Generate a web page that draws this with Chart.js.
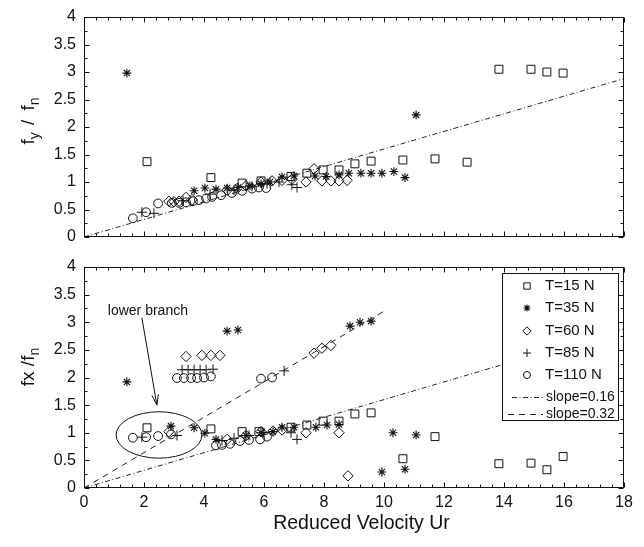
<!DOCTYPE html>
<html><head><meta charset="utf-8">
<script src="https://cdn.jsdelivr.net/npm/chart.js@4.4.0/dist/chart.umd.min.js"></script>
<style>
html,body{margin:0;padding:0;background:#fff;}
#wrap{position:relative;width:644px;height:547px;background:#fff;}
#c1{position:absolute;left:0;top:0;}
#c2{position:absolute;left:0;top:250px;}
</style></head><body>
<div id="wrap"><canvas id="c1" width="644" height="250" style="width:644px;height:250px"></canvas><canvas id="c2" width="644" height="297" style="width:644px;height:297px"></canvas></div>
<script>
// ---------- data ----------
const xTicks = [0, 2, 4, 6, 8, 10, 12, 14, 16, 18];
const yTicks = [0, 0.5, 1, 1.5, 2, 2.5, 3, 3.5, 4];
const seriesLabels = ['T=15 N', 'T=35 N', 'T=60 N', 'T=85 N', 'T=110 N'];
const lineLabels = ['slope=0.16', 'slope=0.32'];
const xTitle = 'Reduced Velocity Ur';

// top panel: fy / fn
const topT15X = [2.1, 4.23, 5.27, 5.9, 6.9, 7.43, 7.97, 8.5, 9.03, 9.57, 10.63, 11.7, 12.77, 13.83, 14.9, 15.43, 15.97];
const topT15Y = [1.37, 1.08, 0.98, 1.02, 1.1, 1.16, 1.22, 1.22, 1.33, 1.38, 1.40, 1.42, 1.36, 3.05, 3.05, 3.0, 2.98];
const topT35X = [1.43, 3.67, 4.03, 4.4, 4.77, 5.13, 5.53, 5.9, 6.2, 6.6, 7.0, 7.7, 8.07, 8.5, 8.83, 9.23, 9.57, 9.93, 10.33, 10.7, 11.07];
const topT35Y = [2.98, 0.84, 0.89, 0.87, 0.89, 0.9, 0.93, 0.97, 1.0, 1.09, 1.11, 1.11, 1.1, 1.13, 1.16, 1.16, 1.16, 1.16, 1.19, 1.08, 2.22];
const topT60X = [2.83, 3.0, 3.17, 3.4, 3.6, 4.77, 5.1, 5.4, 5.9, 6.27, 6.6, 6.93, 7.4, 7.67, 7.93, 8.23, 8.5, 8.77];
const topT60Y = [0.65, 0.64, 0.65, 0.72, 0.68, 0.85, 0.88, 0.93, 1.0, 1.02, 1.03, 1.05, 1.0, 1.24, 1.02, 1.02, 1.02, 1.03];
const topT85X = [1.93, 2.33, 3.3, 4.2, 5.0, 5.6, 6.1, 6.5, 6.93, 7.1];
const topT85Y = [0.45, 0.43, 0.66, 0.78, 0.85, 0.92, 0.97, 1.0, 0.95, 0.9];
const topT110X = [1.63, 2.07, 2.47, 2.93, 3.17, 3.4, 3.63, 3.83, 4.07, 4.27, 4.57, 4.93, 5.27, 5.6, 5.83, 6.07];
const topT110Y = [0.34, 0.45, 0.61, 0.62, 0.62, 0.63, 0.65, 0.67, 0.7, 0.73, 0.76, 0.8, 0.84, 0.88, 0.9, 0.89];

// bottom panel: fx / fn
const botT15X = [2.1, 4.23, 5.27, 5.83, 6.9, 7.43, 7.97, 8.5, 9.03, 9.57, 10.63, 11.7, 13.83, 14.9, 15.43, 15.97];
const botT15Y = [1.09, 1.07, 1.02, 1.02, 1.1, 1.14, 1.21, 1.21, 1.34, 1.36, 0.53, 0.93, 0.44, 0.45, 0.33, 0.57];
const botT35X = [1.43, 2.9, 3.67, 4.03, 4.4, 4.77, 5.13, 5.4, 5.9, 6.3, 6.6, 7.0, 7.73, 8.1, 8.5, 8.87, 9.2, 9.57, 9.93, 10.3, 10.7, 11.07];
const botT35Y = [1.92, 1.12, 1.09, 0.99, 0.88, 2.84, 2.86, 0.95, 1.0, 1.02, 1.1, 1.1, 1.1, 1.14, 1.15, 2.93, 3.0, 3.02, 0.29, 1.0, 0.34, 0.96];
const botT60X = [2.83, 3.4, 3.93, 4.23, 4.53, 4.77, 5.4, 5.9, 6.3, 6.6, 7.4, 7.67, 7.93, 8.23, 8.5, 8.8];
const botT60Y = [1.02, 2.38, 2.4, 2.4, 2.4, 0.88, 0.95, 1.02, 1.03, 1.05, 1.0, 2.44, 2.53, 2.58, 1.0, 0.22];
const botT85X = [1.93, 3.1, 3.27, 3.47, 3.67, 3.87, 4.07, 4.3, 4.6, 5.0, 5.5, 6.0, 6.67, 6.9, 7.1];
const botT85Y = [0.92, 0.95, 2.14, 2.14, 2.14, 2.14, 2.14, 2.15, 0.86, 0.9, 0.95, 1.0, 2.12, 1.0, 0.88];
const botT110X = [1.63, 2.07, 2.47, 2.9, 3.1, 3.33, 3.57, 3.77, 4.0, 4.23, 4.4, 4.6, 4.87, 5.2, 5.5, 5.87, 5.9, 6.1, 6.27];
const botT110Y = [0.91, 0.92, 0.94, 0.97, 1.99, 1.99, 1.99, 1.99, 2.0, 2.02, 0.77, 0.78, 0.8, 0.85, 0.87, 0.88, 1.98, 0.93, 2.0];

// reference lines
const slope016X = [0, 18];
const slope016Y = [0, 2.88];
const slope032X = [0, 10];
const slope032Y = [0, 3.2];

// ---------- styling ----------
const FONT = '"Liberation Sans", Arial, Helvetica, sans-serif';
const INK = '#111';
const markerStyles = [
  {pointStyle: 'rect', radius: 5.6, bw: 1},
  {pointStyle: 'star', radius: 4.4, bw: 1.1},
  {pointStyle: 'rectRot', radius: 5.2, bw: 1},
  {pointStyle: 'cross', radius: 5, bw: 1},
  {pointStyle: 'circle', radius: 4.4, bw: 1}
];
const lineStyles = [[5, 2.5, 1, 2.5], [6, 5]];

function pts(xs, ys) { return xs.map((x, i) => ({x: x, y: ys[i]})); }
function markerDs(i, xs, ys) {
  const s = markerStyles[i];
  return {label: seriesLabels[i], data: pts(xs, ys), showLine: false,
    pointStyle: s.pointStyle, pointRadius: s.radius, pointBorderWidth: s.bw,
    pointBorderColor: INK, pointBackgroundColor: 'rgba(0,0,0,0)', borderColor: INK};
}
function lineDs(i, xs, ys) {
  return {label: lineLabels[i], data: pts(xs, ys), showLine: true, pointRadius: 0,
    borderColor: '#222', borderWidth: 1, borderDash: lineStyles[i], fill: false};
}

// ticks inward + frame + axis titles
function framePlugin(titleParts, titleCenterY, showXTitle) {
  return {
    id: 'frame',
    afterDatasetsDraw(chart) {
      const ctx = chart.ctx, a = chart.chartArea, xs = chart.scales.x, ys = chart.scales.y;
      ctx.save();
      ctx.strokeStyle = INK; ctx.lineWidth = 1;
      const L = Math.round(a.left) + 0.5, R = Math.round(a.right) - 0.5, T = Math.round(a.top) + 0.5, B = Math.round(a.bottom) - 0.5;
      ctx.beginPath();
      for (let k = 0; k <= 45; k++) {
        const v = k * 0.4, px = Math.round(xs.getPixelForValue(v)) + 0.5;
        const len = (k % 5 === 0) ? 5 : 3;
        ctx.moveTo(px, B); ctx.lineTo(px, B - len);
        ctx.moveTo(px, T); ctx.lineTo(px, T + len);
      }
      for (let k = 0; k <= 16; k++) {
        const v = k * 0.25, py = Math.round(ys.getPixelForValue(v)) + 0.5;
        const len = (k % 2 === 0) ? 5 : 3;
        ctx.moveTo(L, py); ctx.lineTo(L + len, py);
        ctx.moveTo(R, py); ctx.lineTo(R - len, py);
      }
      ctx.stroke();
      ctx.strokeRect(L, T, R - L, B - T);
      ctx.fillStyle = INK;
      if (showXTitle) {
        ctx.font = '19.5px ' + FONT; ctx.textAlign = 'center'; ctx.textBaseline = 'middle';
        ctx.fillText(xTitle, xs.getPixelForValue(9.25), 274);
      }
      // y title (rotated, with subscripts)
      ctx.textAlign = 'left';
      ctx.translate(28, titleCenterY);
      ctx.rotate(-Math.PI / 2);
      ctx.textBaseline = 'alphabetic';
      let total = 0;
      titleParts.forEach(p => { ctx.font = p.size + 'px ' + FONT; p.w = ctx.measureText(p.t).width + (p.gap || 0); total += p.w; });
      let x = -total / 2;
      titleParts.forEach(p => { ctx.font = p.size + 'px ' + FONT; ctx.fillText(p.t, x, 6 + (p.dy || 0)); x += p.w; });
      ctx.restore();
    }
  };
}

function drawMarker(ctx, s, x, y, r) {
  ctx.lineWidth = s.bw;
  if (Chart.helpers && Chart.helpers.drawPoint) {
    Chart.helpers.drawPoint(ctx, {pointStyle: s.pointStyle, radius: r, borderWidth: s.bw, rotation: 0}, x, y);
  }
}

const annotPlugin = {
  id: 'annot',
  afterDatasetsDraw(chart) {
    const ctx = chart.ctx, xs = chart.scales.x, ys = chart.scales.y;
    ctx.save();
    ctx.strokeStyle = INK; ctx.fillStyle = INK; ctx.lineWidth = 1;
    // ellipse around the lower branch
    const cx = xs.getPixelForValue(2.5), cy = ys.getPixelForValue(0.96);
    const rx = xs.getPixelForValue(3.93) - cx, ry = cy - ys.getPixelForValue(1.38);
    ctx.beginPath(); ctx.ellipse(cx, cy, rx, ry, 0, 0, Math.PI * 2); ctx.stroke();
    // arrow
    const x0 = xs.getPixelForValue(1.93), y0 = ys.getPixelForValue(3.08);
    const x1 = xs.getPixelForValue(2.43), y1 = ys.getPixelForValue(1.5);
    ctx.beginPath(); ctx.moveTo(x0, y0); ctx.lineTo(x1, y1);
    const ang = Math.atan2(y1 - y0, x1 - x0), hl = 11, hw = 0.3;
    ctx.moveTo(x1 - hl * Math.cos(ang - hw), y1 - hl * Math.sin(ang - hw));
    ctx.lineTo(x1, y1);
    ctx.lineTo(x1 - hl * Math.cos(ang + hw), y1 - hl * Math.sin(ang + hw));
    ctx.stroke();
    // label
    ctx.font = '14px ' + FONT; ctx.textAlign = 'center'; ctx.textBaseline = 'middle';
    ctx.fillText('lower branch', xs.getPixelForValue(2.13), ys.getPixelForValue(3.2));
    // legend box
    const bx = 502, by = 23, bw = 116, bh = 147;
    ctx.fillStyle = '#fff'; ctx.fillRect(bx, by, bw, bh);
    ctx.strokeRect(bx + 0.5, by + 0.5, bw, bh);
    const rowsY = [36, 58, 81, 103, 125, 147, 164];
    ctx.fillStyle = INK; ctx.textAlign = 'left'; ctx.textBaseline = 'middle';
    seriesLabels.forEach((lab, i) => {
      ctx.fillStyle = 'rgba(0,0,0,0)';
      drawMarker(ctx, markerStyles[i], 527, rowsY[i], markerStyles[i].radius * 0.8);
      ctx.fillStyle = INK; ctx.font = '15px ' + FONT;
      ctx.fillText(lab, 545, rowsY[i]);
    });
    lineLabels.forEach((lab, i) => {
      const y = Math.round(rowsY[5 + i]) + 0.5;
      ctx.save(); ctx.setLineDash(lineStyles[i]); ctx.lineWidth = 1; ctx.strokeStyle = '#222';
      ctx.beginPath(); ctx.moveTo(i === 0 ? 512 : 508, y); ctx.lineTo(543, y); ctx.stroke(); ctx.restore();
      ctx.fillStyle = INK; ctx.font = '14px ' + FONT;
      ctx.fillText(lab, 546, rowsY[5 + i]);
    });
    ctx.restore();
  }
};

function fmt(v) { return String(v); }

function makeOptions(isBottom) {
  return {
    responsive: false, animation: false, devicePixelRatio: 1,
    layout: {padding: {top: 17, right: 20, left: 0, bottom: 0}},
    plugins: {legend: {display: false}, tooltip: {enabled: false}},
    scales: {
      x: {type: 'linear', min: 0, max: 18,
        afterBuildTicks(s) { s.ticks = xTicks.map(v => ({value: v})); },
        ticks: {display: isBottom, padding: 5, color: INK, font: {size: 16, family: FONT}, callback: fmt},
        grid: {display: false, drawTicks: false}, border: {display: false},
        title: {display: false, text: xTitle},
        afterFit(s) { s.height = isBottom ? 59 : 13; s.paddingLeft = 0; s.paddingRight = 0; }
      },
      y: {type: 'linear', min: 0, max: 4,
        afterBuildTicks(s) { s.ticks = yTicks.map(v => ({value: v})); },
        ticks: {padding: 8, color: INK, font: {size: 16, family: FONT}, callback: fmt},
        grid: {display: false, drawTicks: false}, border: {display: false},
        afterFit(s) { s.width = 84; s.paddingTop = 0; s.paddingBottom = 0; }
      }
    }
  };
}

new Chart(document.getElementById('c1'), {
  type: 'scatter',
  data: {datasets: [
    lineDs(0, slope016X, slope016Y),
    markerDs(0, topT15X, topT15Y), markerDs(1, topT35X, topT35Y), markerDs(2, topT60X, topT60Y),
    markerDs(3, topT85X, topT85Y), markerDs(4, topT110X, topT110Y)
  ]},
  options: makeOptions(false),
  plugins: [framePlugin([
    {t: 'f', size: 19}, {t: 'y', size: 14, dy: 5, gap: 2}, {t: ' / ', size: 19, gap: 4}, {t: 'f', size: 19}, {t: 'n', size: 14, dy: 5}
  ], 121, false)]
});

new Chart(document.getElementById('c2'), {
  type: 'scatter',
  data: {datasets: [
    lineDs(0, slope016X, slope016Y), lineDs(1, slope032X, slope032Y),
    markerDs(0, botT15X, botT15Y), markerDs(1, botT35X, botT35Y), markerDs(2, botT60X, botT60Y),
    markerDs(3, botT85X, botT85Y), markerDs(4, botT110X, botT110Y)
  ]},
  options: makeOptions(true),
  plugins: [annotPlugin, framePlugin([
    {t: 'fx /f', size: 19}, {t: 'n', size: 14, dy: 5}
  ], 117, true)]
});
</script>
</body></html>
